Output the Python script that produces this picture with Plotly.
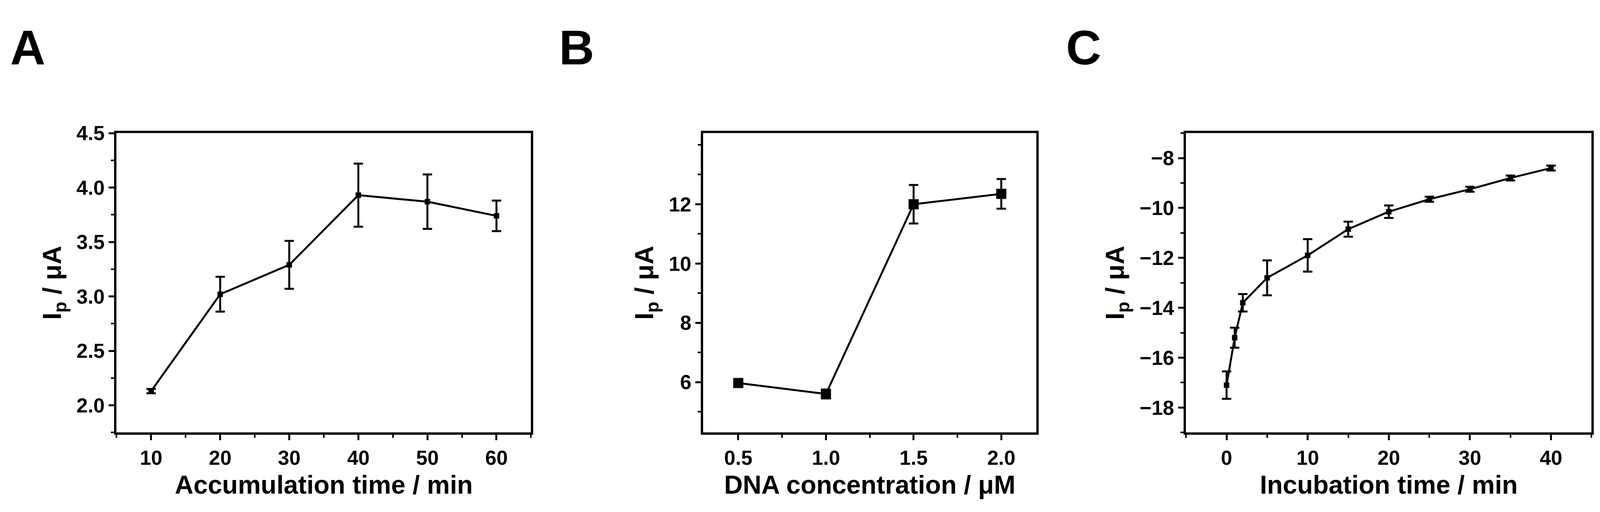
import plotly.graph_objects as go

# Panel A
acc_time = [10, 20, 30, 40, 50, 60]
acc_ip = [2.13, 3.02, 3.29, 3.93, 3.87, 3.74]
acc_err = [0.02, 0.16, 0.22, 0.29, 0.25, 0.14]

# Panel B
dna_conc = [0.5, 1.0, 1.5, 2.0]
dna_ip = [5.97, 5.6, 12.0, 12.35]
dna_err = [0.1, 0.15, 0.65, 0.5]
dna_yticks = [6, 8, 10, 12]

# Panel C
inc_time = [0, 1, 2, 5, 10, 15, 20, 25, 30, 35, 40]
inc_ip = [-17.1, -15.2, -13.8, -12.8, -11.9, -10.85, -10.15, -9.65, -9.25, -8.8, -8.4]
inc_err = [0.55, 0.4, 0.35, 0.7, 0.65, 0.3, 0.25, 0.1, 0.1, 0.1, 0.1]

FONT = "Liberation Sans"
fig = go.Figure()

panels = [
    (acc_time, acc_ip, acc_err, "", 14),
    (dna_conc, dna_ip, dna_err, "2", 26),
    (inc_time, inc_ip, inc_err, "3", 14),
]
for x, y, e, ax, ms in panels:
    fig.add_trace(go.Scatter(
        x=x, y=y, mode="lines+markers", xaxis="x" + ax, yaxis="y" + ax,
        line=dict(color="black", width=5),
        marker=dict(symbol="square", size=ms, color="black"),
        error_y=dict(type="data", array=e, color="black", thickness=5, width=12),
        showlegend=False,
    ))

def axis(domain, rng, dtick, title, anchor, minor_dtick, fmt=None):
    d = dict(domain=domain, range=rng, dtick=dtick, anchor=anchor,
             showline=True, mirror=True, linecolor="black", linewidth=6,
             ticks="outside", ticklen=14, tickwidth=5, tickcolor="black",
             showgrid=False, zeroline=False,
             minor=dict(dtick=minor_dtick, ticks="outside", ticklen=8, tickwidth=4, tickcolor="black"),
             tickfont=dict(family=FONT, size=52, color="black", weight="bold"),
             title=dict(text=title, font=dict(family=FONT, size=66, color="black", weight="bold"), standoff=20))
    if fmt:
        d["tickformat"] = fmt
    return d

ytitle = "I<sub>p</sub> / μA"
dy = [0.165, 0.763]
y2 = axis(dy, [4.3, 14.4], 2, ytitle, "x2", 1)
y2["tickvals"] = dna_yticks
fig.update_layout(
    width=4120, height=1312, plot_bgcolor="white", paper_bgcolor="white",
    margin=dict(l=0, r=0, t=0, b=0),
    xaxis=axis([0.0705, 0.328], [5, 65], 10, "Accumulation time / min", "y", 5),
    yaxis=axis(dy, [1.75, 4.5], 0.5, ytitle, "x", 0.25, ".1f"),
    xaxis2=axis([0.435, 0.642], [0.3, 2.2], 0.5, "DNA concentration / μM", "y2", 0.25, ".1f"),
    yaxis2=y2,
    xaxis3=axis([0.735, 0.987], [-5, 45], 10, "Incubation time / min", "y3", 5),
    yaxis3=axis(dy, [-19, -7], 2, ytitle, "x3", 1),
)
for lx, txt in [(0.004, "A"), (0.345, "B"), (0.66, "C")]:
    fig.add_annotation(x=lx, y=0.99, xref="paper", yref="paper", text="<b>%s</b>" % txt,
                       showarrow=False, xanchor="left", yanchor="top",
                       font=dict(family=FONT, size=125, color="black"))

fig.write_html("out.html")
